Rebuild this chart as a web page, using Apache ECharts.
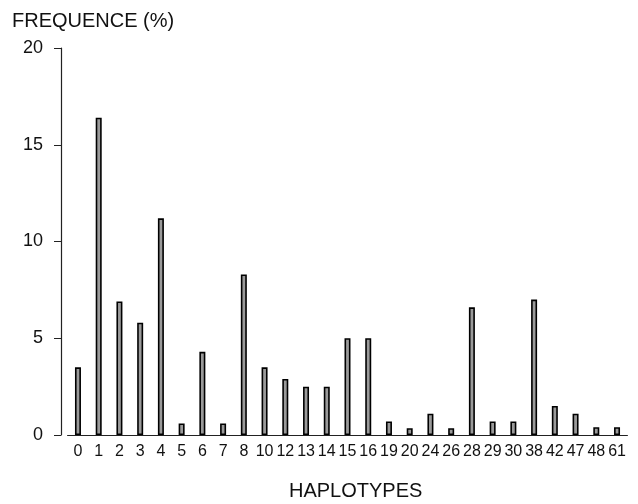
<!DOCTYPE html>
<html lang="fr">
<head>
	<meta charset="UTF-8">
	<title>Haplotypes</title>
	<script type="text/javascript" src="https://cdn.jsdelivr.net/npm/echarts@6/dist/echarts.min.js"></script>
	<style>
		body { margin: 0; background: #fff; }
	</style>
</head>
<body>
	<div id="chart" style="width: 638px;height: 504px;"></div>
	<script type="text/javascript">
		// haplotype numbers on the x axis
		var haplotypes = ['0','1','2','3','4','5','6','7','8','10','12','13','14','15','16','19','20','24','26','28','29','30','38','42','47','48','61'];
		// frequency in percent
		var frequence = [3.5,16.4,6.9,5.8,11.2,0.6,4.3,0.6,8.3,3.5,2.9,2.5,2.5,5.0,5.0,0.7,0.35,1.1,0.35,6.6,0.7,0.7,7.0,1.5,1.1,0.4,0.4];
		var yTicks = [0, 5, 10, 15, 20];

		var chart = echarts.init(document.getElementById('chart'));
		var textFont = 'Liberation Sans, Arial, sans-serif';

		var option = {
			animation: false,
			backgroundColor: '#fff',
			title: [
				{
					text: 'FREQUENCE (%)',
					left: 12, top: 11, padding: 0,
					textStyle: { fontFamily: textFont, fontSize: 20, fontWeight: 'normal', color: '#111' }
				},
				{
					text: 'HAPLOTYPES',
					left: 289, top: 481, padding: 0,
					textStyle: { fontFamily: textFont, fontSize: 20, fontWeight: 'normal', color: '#111' }
				}
			],
			grid: { left: 67.6, right: 10.6, top: 48, bottom: 69, containLabel: false },
			xAxis: {
				type: 'category',
				data: haplotypes,
				boundaryGap: true,
				axisLine: { lineStyle: { color: '#222', width: 1.2 } },
				axisTick: { show: false },
				axisLabel: {
					interval: 0, margin: 9,
					fontFamily: textFont, fontSize: 16, color: '#111'
				}
			},
			yAxis: {
				type: 'value',
				min: yTicks[0],
				max: yTicks[yTicks.length - 1],
				interval: 5,
				offset: 6.6,
				splitLine: { show: false },
				axisLine: { show: true, lineStyle: { color: '#222', width: 1.2 } },
				axisTick: { show: true, length: 7, lineStyle: { color: '#222' } },
				axisLabel: {
					margin: 18,
					fontFamily: textFont, fontSize: 18, color: '#111'
				}
			},
			series: [
				{
					type: 'bar',
					data: frequence,
					barWidth: 6,
					itemStyle: {
						color: '#9a9a9a',
						borderColor: '#000',
						borderWidth: 1.6
					}
				}
			]
		};
		chart.setOption(option);
	</script>
</body>
</html>
